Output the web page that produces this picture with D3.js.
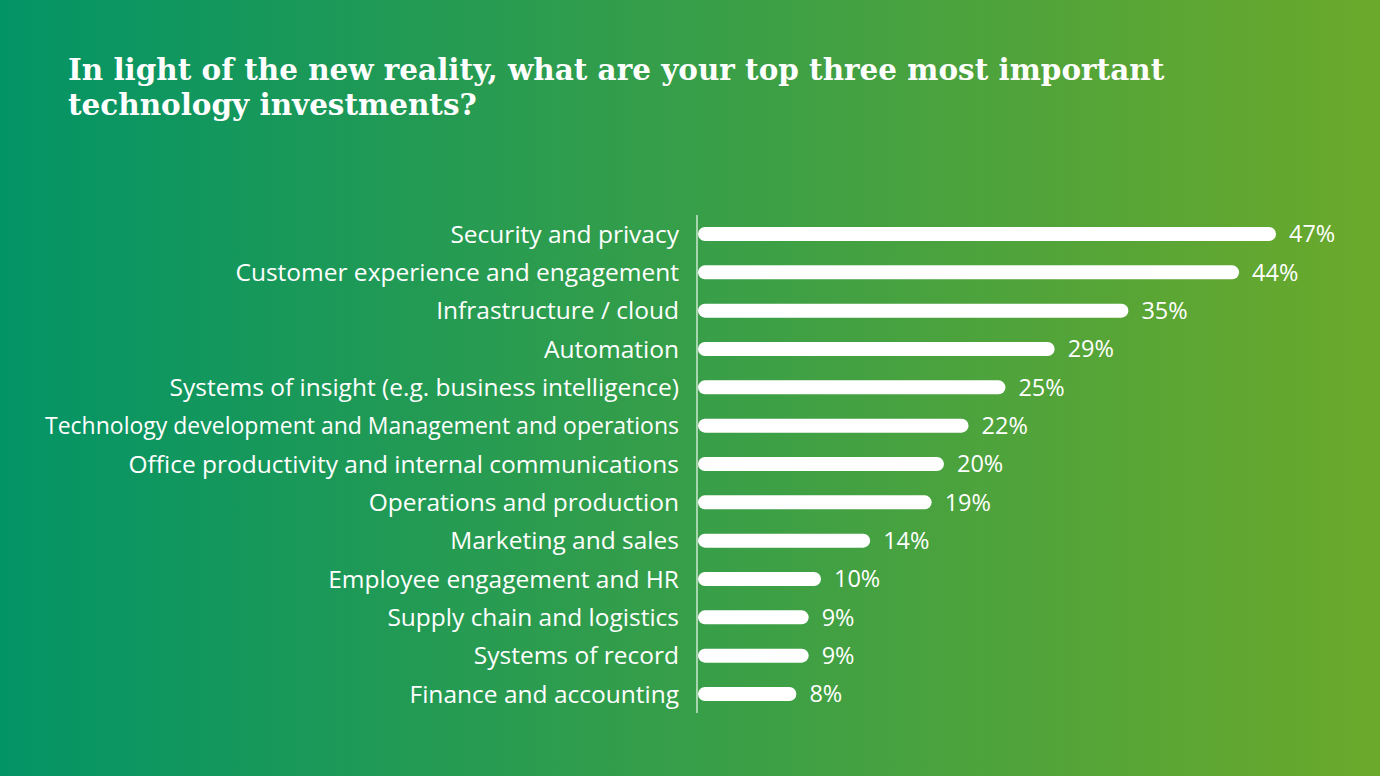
<!DOCTYPE html>
<html lang="en">
<head>
<meta charset="UTF-8">
<title>Top technology investments</title>
<script src="https://d3js.org/d3.v7.min.js"></script>
<style>
  html, body { margin: 0; padding: 0; }
  body { width: 1380px; height: 776px; overflow: hidden; }
  svg { display: block; }
</style>
</head>
<body>
<div id="chart"></div>
<script>
// data
const titleLines = [
  "In light of the new reality, what are your top three most important",
  "technology investments?"
];
const categories = [
  "Security and privacy",
  "Customer experience and engagement",
  "Infrastructure / cloud",
  "Automation",
  "Systems of insight (e.g. business intelligence)",
  "Technology development and Management and operations",
  "Office productivity and internal communications",
  "Operations and production",
  "Marketing and sales",
  "Employee engagement and HR",
  "Supply chain and logistics",
  "Systems of record",
  "Finance and accounting"
];
const values = [47, 44, 35, 29, 25, 22, 20, 19, 14, 10, 9, 9, 8];

const width = 1380, height = 776;
const barH = 14;
const labelMax = 634;   // room left of the axis for category text
const titleWidth = 1097; // first title line runs from x=68 to about x=1165
const labelFont = "'Open Sans', sans-serif";
const labelSize = 24.5;

const svg = d3.select("#chart").append("svg")
  .attr("width", width)
  .attr("height", height);

// background gradient
const grad = svg.append("defs").append("linearGradient")
  .attr("id", "bg")
  .attr("x1", "0%").attr("y1", "0%")
  .attr("x2", "100%").attr("y2", "0%");
grad.append("stop").attr("offset", "0%").attr("stop-color", "#039466");
grad.append("stop").attr("offset", "100%").attr("stop-color", "#6ba92b");

svg.append("rect")
  .attr("width", width)
  .attr("height", height)
  .attr("fill", "url(#bg)");

// title, slab-ish bold face sized so the first line fills its span
const title = svg.append("g")
  .selectAll("text")
  .data(titleLines)
  .enter().append("text")
  .attr("x", 68)
  .attr("y", (d, i) => 80 + i * 35)
  .attr("fill", "#fff")
  .attr("font-family", "'DejaVu Serif', serif")
  .attr("font-weight", 700)
  .attr("font-size", 27)
  .text(d => d);

const firstW = title.node().getComputedTextLength();
if (firstW > 0) {
  title.attr("font-size", 27 * titleWidth / firstW);
}

const x = d3.scaleLinear()
  .domain([0, 47])
  .range([698, 1276]);

const y = d3.scalePoint()
  .domain(categories)
  .range([234, 694]);

// axis line
svg.append("line")
  .attr("x1", x(0) - 1).attr("x2", x(0) - 1)
  .attr("y1", 215).attr("y2", 713)
  .attr("stroke", "rgba(255,255,255,0.75)")
  .attr("stroke-width", 1.5);

const rows = categories.map((c, i) => ({ cat: c, val: values[i] }));

// bars
svg.append("g")
  .selectAll("rect")
  .data(rows)
  .enter().append("rect")
  .attr("x", x(0))
  .attr("y", d => y(d.cat) - barH / 2)
  .attr("width", d => x(d.val) - x(0))
  .attr("height", barH)
  .attr("rx", barH / 2)
  .attr("fill", "#fff");

// category labels
const cats = svg.append("g")
  .selectAll("text")
  .data(rows)
  .enter().append("text")
  .attr("x", 679)
  .attr("y", d => y(d.cat))
  .attr("dy", "0.36em")
  .attr("text-anchor", "end")
  .attr("fill", "#fff")
  .attr("font-family", labelFont)
  .attr("font-size", labelSize)
  .text(d => d.cat);

// squeeze any label that is too long, like the condensed one in the original
cats.each(function () {
  if (this.getComputedTextLength() > labelMax) {
    d3.select(this)
      .attr("textLength", labelMax)
      .attr("lengthAdjust", "spacingAndGlyphs");
  }
});

// value labels
svg.append("g")
  .selectAll("text")
  .data(rows)
  .enter().append("text")
  .attr("x", d => x(d.val) + 13)
  .attr("y", d => y(d.cat))
  .attr("dy", "0.36em")
  .attr("fill", "#fff")
  .attr("font-family", labelFont)
  .attr("font-size", 23.5)
  .text(d => d.val + "%");
</script>
</body>
</html>
